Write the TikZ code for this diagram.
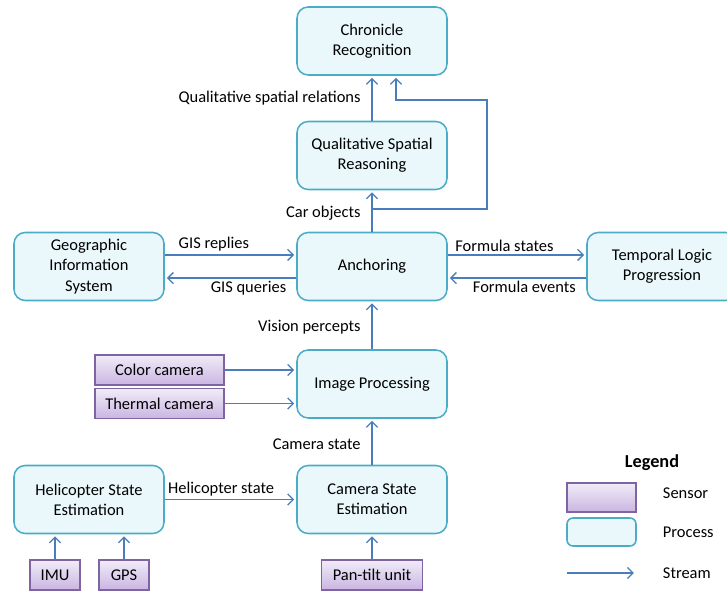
\documentclass[tikz,border=0pt]{standalone}
\usepackage{fontspec}
\setmainfont{Carlito}
\usetikzlibrary{positioning,arrows.meta}

\definecolor{procfill}{HTML}{EAF8FC}
\definecolor{procline}{HTML}{4BACC6}
\definecolor{senstop}{HTML}{F1ECF8}
\definecolor{sensbot}{HTML}{CAB5E2}
\definecolor{sensline}{HTML}{8064A2}
\definecolor{streamcol}{HTML}{4A7EBB}

\begin{document}
\begin{tikzpicture}[
    font=\fontsize{11.7}{14.4}\selectfont,
    process/.style={draw=procline, fill=procfill, line width=1.1pt, rounded corners=0.28cm,
        minimum width=3.75cm, minimum height=1.7cm, align=center},
    sensor/.style={draw=sensline, top color=senstop, bottom color=sensbot, line width=1.1pt,
        minimum height=0.75cm, inner sep=2pt},
    stream/.style={-{Straight Barb[length=1.4mm,width=2.8mm]}, draw=streamcol, line width=0.9pt, shorten >=1.5pt},
    lbl/.style={inner sep=2pt}
]
    \useasboundingbox (0,0) rectangle (18.175,14.775);

    % mittlere Spalte
    \def\midx{9.3}

    % Prozesse
    \node[process] (chron) at (\midx, 13.75) {Chronicle\\Recognition};
    \node[process] (qsr)   at (\midx, 10.8875) {Qualitative Spatial\\Reasoning};
    \node[process] (anch)  at (\midx, 8.1125) {Anchoring};
    \node[process] (gis)   at (2.225, 8.1125) {Geographic\\Information\\System};
    \node[process] (tlp)   at (16.55, 8.1125) {Temporal Logic\\Progression};
    \node[process] (imgp)  at (\midx, 5.175) {Image Processing};
    \node[process] (cse)   at (\midx, 2.2875) {Camera State\\Estimation};
    \node[process] (heli)  at (2.225, 2.2875) {Helicopter State\\Estimation};

    % Sensoren
    \node[sensor, minimum width=3.225cm] (color)   at (3.9875, 5.525) {Color camera};
    \node[sensor, minimum width=3.225cm] (thermal) at (3.9875, 4.6875) {Thermal camera};
    \node[sensor, minimum width=1.25cm]  (imu)     at (1.375, 0.4) {IMU};
    \node[sensor, minimum width=1.25cm]  (gps)     at (3.1, 0.4) {GPS};
    \node[sensor, minimum width=2.525cm] (pantilt) at (\midx, 0.4) {Pan-tilt unit};

    % Datenstroeme
    \draw[stream] (qsr.north) -- (chron.south)
        node[lbl, midway, left=0.2cm] {Qualitative spatial relations};
    \draw[stream] (anch.north) -- (qsr.south)
        node[lbl, pos=0.45, left=0.2cm] {Car objects};
    \coordinate (split) at (\midx, 9.55);
    \coordinate (bend) at (12.175, 12.275);
    \draw[stream] (split) -| (bend) -| ([xshift=0.6cm]chron.south);

    \draw[stream] ([yshift=0.29cm]gis.east) -- ([yshift=0.29cm]anch.west)
        node[lbl, pos=0.08, above right] {GIS replies};
    \draw[stream] ([yshift=-0.29cm]anch.west) -- ([yshift=-0.29cm]gis.east)
        node[lbl, pos=0.05, below left] {GIS queries};
    \draw[stream] ([yshift=0.29cm]anch.east) -- ([yshift=0.29cm]tlp.west)
        node[lbl, pos=0.03, above right] {Formula states};
    \draw[stream] ([yshift=-0.29cm]tlp.west) -- ([yshift=-0.29cm]anch.east)
        node[lbl, pos=0.05, below left] {Formula events};

    \draw[stream] (imgp.north) -- (anch.south)
        node[lbl, pos=0.45, left=0.2cm] {Vision percepts};
    \draw[stream] (color.east) -- (color.east -| imgp.west);
    \draw[stream] (thermal.east) -- (thermal.east -| imgp.west);
    \draw[stream] (cse.north) -- (imgp.south)
        node[lbl, pos=0.45, left=0.2cm] {Camera state};
    \draw[stream] (heli.east) -- (heli.east -| cse.west)
        node[lbl, pos=0.0, above right] {Helicopter state};
    \draw[stream] (imu.north) -- (imu.north |- heli.south);
    \draw[stream] (gps.north) -- (gps.north |- heli.south);
    \draw[stream] (pantilt.north) -- (cse.south);

    % Legende
    \node[font=\fontsize{13}{15}\selectfont\bfseries] (legtitle) at (16.3, 3.2) {Legend};
    \node[sensor, minimum width=1.725cm, minimum height=0.725cm] (legsens) at (15.0375, 2.3375) {};
    \node[process, minimum width=1.725cm, minimum height=0.7cm, rounded corners=0.15cm] (legproc) at (15.0375, 1.475) {};
    \coordinate (sa) at (14.175, 0.45);
    \coordinate (sb) at (15.9, 0.45);
    \draw[stream] (sa) -- (sb);
    \node[anchor=west] (legsenslbl) at (16.45, 2.45) {Sensor};
    \node[anchor=west] (legproclbl) at (16.45, 1.475) {Process};
    \node[anchor=west] (legstrlbl)  at (16.45, 0.45) {Stream};
\end{tikzpicture}
\end{document}
